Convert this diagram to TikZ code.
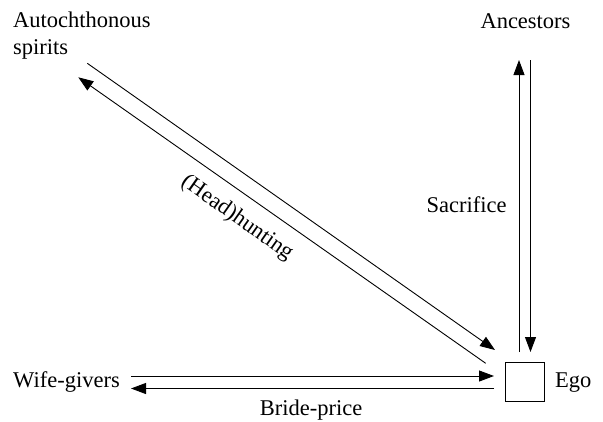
\documentclass[tikz,border=0pt]{standalone}
\usepackage{fontspec}
\setmainfont{Liberation Serif}
\usetikzlibrary{arrows.meta}
\begin{document}
\begin{tikzpicture}[x=1pt,y=-1pt,
  lbl/.style={inner sep=0pt,font=\fontsize{22.5}{27}\selectfont},
  arr/.style={line width=0.9pt,-{Triangle[length=15pt,width=11pt]}},
  plain/.style={line width=0.9pt}]
\useasboundingbox (0,0) rectangle (603,421);
% labels
\node[lbl,anchor=north west,align=left] (spirits) at (13,11.6) {Autochthonous\\spirits};
\node[lbl,anchor=base] (ancestors) at (525.5,28) {Ancestors};
\node[lbl,anchor=base west] (wife) at (13,387) {Wife-givers};
\node[draw,line width=0.9pt,minimum size=39pt,inner sep=0pt] (ego) at (524.8,381.7) {};
\node[lbl,anchor=base west] (egolbl) at (555,387) {Ego};
\node[lbl,anchor=base] (sacrifice) at (466.5,212) {Sacrifice};
\node[lbl,anchor=base] (bride) at (311,415) {Bride-price};
\node[lbl,rotate=-35.1] (hunt) at (237,218) {(Head)hunting};
% connector ends
\coordinate (upS) at (519,352);
\coordinate (upE) at (519,60);
\coordinate (dnS) at (530.5,60);
\coordinate (dnE) at (530.5,352);
\coordinate (rtS) at (131,376);
\coordinate (rtE) at (494,376);
\coordinate (lfS) at (494,388.5);
\coordinate (lfE) at (131,388.5);
\coordinate (dgS) at (87.3,63.3);
\coordinate (dgE) at (495,350);
\coordinate (duS) at (485.7,363.3);
\coordinate (duE) at (78.3,77.3);
% connectors
\draw[arr] (upS) -- (upE);
\draw[arr] (dnS) -- (dnE);
\draw[arr] (rtS) -- (rtE);
\draw[arr] (lfS) -- (lfE);
\draw[arr] (dgS) -- (dgE);
\draw[arr] (duS) -- (duE);
\end{tikzpicture}
\end{document}
